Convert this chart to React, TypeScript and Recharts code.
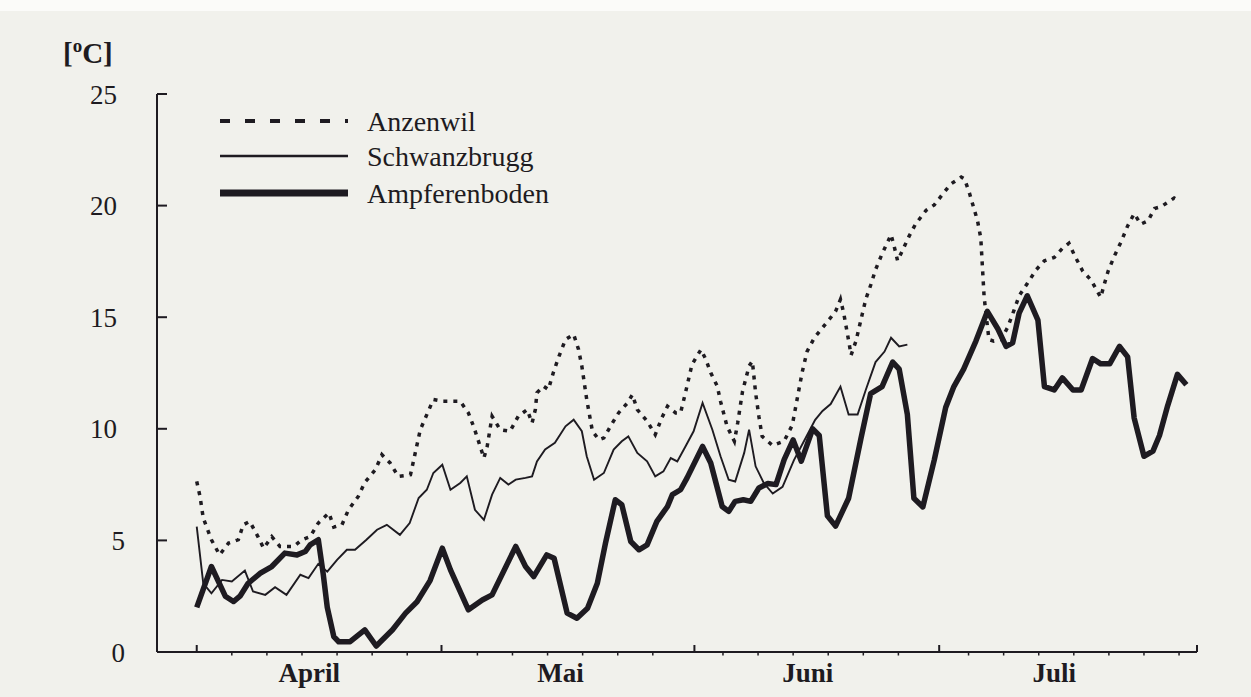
import React from 'react';
import { LineChart, Line, XAxis, YAxis } from 'recharts';

const INK = '#1e1b21';
const PAPER = '#f1f1ec';
const FONT = '"Liberation Serif", "Times New Roman", Times, serif';

// x values are days counted from 1 April
const MONTHS = ['April', 'Mai', 'Juni', 'Juli'];
const MONTH_START_DAYS = [0, 30, 61, 91];
const MONTH_LABEL_DAYS = [13.8, 44.6, 74.9, 105.1];
const MINOR_TICK_STEP = 4.3;
const X_DOMAIN: [number, number] = [-4.87, 122.6];
const Y_TICKS = [0, 5, 10, 15, 20, 25];
const UNIT_LABEL = '°C';
const SERIES_NAMES = ['Anzenwil', 'Schwanzbrugg', 'Ampferenboden'];

// [day, °C]
const ANZENWIL: [number, number][] = [
  [0, 7.64], [0.4, 6.97], [0.8, 6.0], [1.8, 5.03], [2.8, 4.35], [3.9, 4.88], [5.1, 5.03], [5.7, 5.7],
  [6.5, 5.85], [7.5, 5.17], [8.2, 4.65], [9.2, 5.17], [10.2, 4.73], [11.9, 4.73], [12.9, 5.03], [13.9, 5.17],
  [14.9, 5.78], [16.2, 6.23], [16.8, 5.6], [17.8, 5.7], [18.6, 6.37], [19.8, 6.97], [20.6, 7.6], [21.9, 8.17],
  [22.7, 8.84], [23.7, 8.47], [24.7, 7.87], [26.2, 7.94], [27.4, 9.96], [29.0, 11.31], [30.2, 11.23], [31.3, 11.23],
  [32.3, 11.23], [33.3, 10.71], [34.0, 10.04], [34.6, 9.37], [35.2, 8.69], [35.6, 9.21], [36.2, 10.56], [37.2, 9.96],
  [38.4, 9.89], [39.4, 10.56], [40.5, 10.86], [41.1, 10.26], [41.5, 10.86], [41.7, 11.61], [42.5, 11.91], [43.1, 11.76],
  [43.7, 12.51], [44.4, 13.25], [45.2, 14.0], [46.2, 14.23], [46.8, 13.55], [47.2, 12.81], [47.8, 11.31], [48.5, 9.89],
  [49.3, 9.51], [49.9, 9.59], [50.7, 10.11], [51.7, 10.71], [52.8, 11.16], [53.4, 11.53], [54.0, 10.86], [55.2, 10.34],
  [56.2, 9.74], [57.0, 10.49], [57.7, 11.01], [58.7, 10.71], [59.3, 10.71], [59.9, 11.61], [60.7, 12.88], [61.8, 13.55],
  [62.4, 13.11], [63.0, 12.51], [63.8, 11.91], [64.2, 11.23], [65.0, 10.11], [65.9, 9.44], [66.3, 10.26], [66.9, 11.68],
  [67.7, 12.81], [68.1, 13.03], [68.5, 11.61], [68.9, 10.56], [69.3, 9.66], [70.6, 9.25], [72.0, 9.45], [73.0, 10.17],
  [73.6, 11.35], [74.2, 12.52], [74.8, 13.46], [75.7, 14.08], [77.1, 14.71], [78.3, 15.26], [78.9, 15.8], [79.3, 15.18],
  [79.95, 13.85], [80.2, 13.3], [80.8, 13.93], [81.6, 15.18], [82.0, 15.8], [82.6, 16.43], [83.2, 17.13], [84.0, 17.84],
  [84.7, 18.38], [85.1, 18.7], [85.5, 18.15], [85.9, 17.53], [86.5, 17.99], [87.3, 18.62], [88.1, 19.17], [89.4, 19.79],
  [90.4, 20.03], [91.4, 20.5], [92.4, 20.96], [93.7, 21.28], [94.1, 21.2], [94.7, 20.57], [95.7, 19.32], [96.1, 18.54],
  [96.5, 15.96], [96.7, 15.26], [97.1, 14.0], [97.7, 13.93], [98.6, 14.0], [99.4, 14.55], [100.2, 15.34], [100.8, 15.96],
  [101.8, 16.51], [102.9, 17.13], [103.9, 17.53], [105.1, 17.68], [106.1, 18.08], [106.9, 18.31], [107.6, 17.76], [108.6, 17.06],
  [109.6, 16.67], [110.8, 15.89], [111.2, 16.43], [111.7, 17.06], [112.5, 17.76], [113.3, 18.38], [114.1, 19.09], [114.9, 19.64],
  [115.7, 19.17], [116.6, 19.32], [117.4, 19.87], [118.2, 19.95], [119.8, 20.34], [120.2, 20.26],
];

const SCHWANZBRUGG: [number, number][] = [
  [0, 5.62], [0.8, 3.08], [1.8, 2.63], [3.1, 3.23], [4.3, 3.16], [5.9, 3.65], [6.9, 2.71], [8.4, 2.56],
  [9.6, 2.9], [11.0, 2.56], [12.7, 3.46], [13.7, 3.31], [14.9, 3.95], [16.0, 3.6], [17.2, 4.13], [18.4, 4.58],
  [19.4, 4.58], [20.8, 5.03], [22.1, 5.48], [23.3, 5.7], [24.9, 5.25], [26.1, 5.78], [27.2, 6.9], [28.2, 7.27],
  [29.0, 8.02], [30.1, 8.39], [31.1, 7.27], [32.3, 7.57], [33.1, 7.87], [34.1, 6.37], [35.2, 5.92], [36.2, 7.05],
  [37.2, 7.8], [38.2, 7.5], [39.1, 7.72], [40.3, 7.8], [41.1, 7.87], [41.7, 8.54], [42.7, 9.07], [43.9, 9.37],
  [45.2, 10.11], [46.2, 10.41], [47.2, 9.89], [47.8, 8.77], [48.7, 7.72], [49.9, 8.02], [51.1, 9.07], [52.1, 9.44],
  [52.9, 9.66], [54.0, 8.92], [55.2, 8.54], [56.2, 7.87], [57.2, 8.09], [58.1, 8.69], [58.9, 8.54], [59.9, 9.21],
  [60.9, 9.89], [62.0, 11.16], [63.2, 9.96], [64.2, 8.77], [65.2, 7.72], [66.0, 7.64], [67.1, 8.92], [67.7, 9.96],
  [68.5, 8.32], [69.5, 7.57], [70.6, 7.1], [71.8, 7.4], [73.2, 8.6], [74.5, 9.5], [75.8, 10.4], [76.7, 10.8],
  [77.7, 11.11], [78.9, 11.89], [79.9, 10.64], [81.0, 10.64], [82.0, 11.74], [83.2, 12.99], [84.3, 13.46], [85.1, 14.08],
  [86.1, 13.69], [87.1, 13.77],
];

const AMPFERENBODEN: [number, number][] = [
  [0, 2.0], [1.8, 3.83], [3.5, 2.5], [4.5, 2.26], [5.3, 2.5], [6.3, 3.08], [7.8, 3.53], [9.2, 3.83],
  [10.8, 4.43], [12.3, 4.35], [13.3, 4.5], [13.9, 4.8], [14.9, 5.03], [15.5, 3.5], [16.0, 2.0], [16.8, 0.69],
  [17.4, 0.46], [18.8, 0.46], [20.6, 0.99], [22.0, 0.27], [24.0, 1.0], [25.6, 1.74], [27.0, 2.25], [28.6, 3.2],
  [30.1, 4.65], [31.1, 3.68], [33.3, 1.89], [35.0, 2.33], [36.2, 2.56], [39.1, 4.73], [40.3, 3.83], [41.3, 3.38],
  [42.9, 4.35], [43.8, 4.2], [45.4, 1.74], [46.6, 1.51], [47.9, 1.96], [49.1, 3.08], [50.1, 4.88], [51.3, 6.82],
  [52.1, 6.6], [53.2, 4.95], [54.2, 4.58], [55.2, 4.8], [56.4, 5.85], [57.7, 6.52], [58.3, 7.05], [59.3, 7.27],
  [60.1, 7.8], [62.0, 9.21], [63.0, 8.47], [64.4, 6.52], [65.2, 6.3], [66.0, 6.75], [67.0, 6.82], [67.9, 6.75],
  [68.9, 7.35], [70.0, 7.55], [71.0, 7.5], [72.0, 8.62], [73.1, 9.5], [74.1, 8.55], [75.5, 10.0], [76.3, 9.7],
  [77.3, 6.1], [78.3, 5.64], [79.9, 6.89], [81.4, 9.55], [82.6, 11.58], [84.0, 11.89], [85.3, 12.99], [86.1, 12.67],
  [87.1, 10.64], [87.9, 6.89], [89.0, 6.5], [90.4, 8.61], [91.8, 10.96], [92.8, 11.89], [94.0, 12.67], [95.5, 13.93],
  [96.9, 15.26], [98.2, 14.47], [99.2, 13.69], [100.0, 13.85], [100.8, 15.18], [101.8, 15.96], [103.1, 14.87], [103.9, 11.89],
  [105.1, 11.74], [106.1, 12.28], [107.4, 11.74], [108.4, 11.74], [109.8, 13.15], [110.8, 12.91], [111.9, 12.91], [113.1, 13.69],
  [114.1, 13.22], [114.9, 10.48], [116.1, 8.77], [117.2, 9.0], [118.0, 9.7], [119.0, 11.03], [120.2, 12.44], [121.3, 11.97],
];

const toRows = (pairs: [number, number][]) => pairs.map(([d, v]) => ({ d, v }));

const MINOR_TICKS = Array.from({ length: 28 }, (_, i) => i + 1)
  .filter((k) => k !== 7 && k !== 14 && k !== 21)
  .map((k) => Math.round(k * MINOR_TICK_STEP * 100) / 100);
const END_TICK = X_DOMAIN[1];
const X_TICKS = [...MONTH_START_DAYS, ...MINOR_TICKS, ...MONTH_LABEL_DAYS, END_TICK].sort((a, b) => a - b);

const XTick = (props: any) => {
  const { x, y, payload } = props;
  const v = payload.value;
  const li = MONTH_LABEL_DAYS.indexOf(v);
  if (li >= 0) {
    return (
      <text x={x} y={y + 30} textAnchor="middle" fontFamily={FONT} fontWeight="bold" fontSize={27} fill={INK}>
        {MONTHS[li]}
      </text>
    );
  }
  if (MONTH_START_DAYS.includes(v) || v === END_TICK) {
    return <line x1={x} x2={x} y1={y} y2={y - 7} stroke={INK} strokeWidth={2} />;
  }
  return <line x1={x} x2={x} y1={y} y2={y + 3.5} stroke={INK} strokeWidth={1.5} />;
};

const YTick = (props: any) => {
  const { x, y, payload } = props;
  const v = payload.value;
  const label = String(v);
  return (
    <g>
      {v > 0 && <line x1={x} x2={x + 10} y1={y} y2={y} stroke={INK} strokeWidth={2} />}
      <text x={x - (label.length > 1 ? 40 : 32)} y={y + 9.5} textAnchor="end" fontFamily={FONT} fontSize={27} fill={INK}>
        {label}
      </text>
    </g>
  );
};

const LEGEND_ROWS = [
  { y: 121, width: 4, dash: '10 15' },
  { y: 156, width: 2.5, dash: undefined },
  { y: 193, width: 7, dash: undefined },
];

export default function App() {
  return (
    <div style={{ position: 'absolute', left: 0, top: 0, width: 1251, height: 697, background: PAPER, overflow: 'hidden' }}>
      <div style={{ position: 'absolute', left: 0, top: 0, width: 1251, height: 11, background: '#fbfbf9' }} />
      <svg width={1251} height={697} style={{ position: 'absolute', left: 0, top: 0 }}>
        <text x={63} y={63} fontFamily={FONT} fontWeight="bold" fontSize={29} fill={INK}>
          [<tspan dy={-11} fontSize={19}>o</tspan>
          <tspan dy={11}>C]</tspan>
        </text>
        {LEGEND_ROWS.map((r, i) => (
          <g key={SERIES_NAMES[i]}>
            <line x1={220} x2={348} y1={r.y} y2={r.y} stroke={INK} strokeWidth={r.width} strokeDasharray={r.dash} />
            <text x={367} y={r.y + 9.5} fontFamily={FONT} fontSize={28} fill={INK}>
              {SERIES_NAMES[i]}
            </text>
          </g>
        ))}
      </svg>
      <div style={{ position: 'absolute', left: 0, top: 0 }}>
        <LineChart width={1251} height={697} margin={{ top: 94, right: 54, bottom: 0, left: 57 }}>
          <XAxis
            type="number"
            dataKey="d"
            domain={X_DOMAIN}
            ticks={X_TICKS}
            interval={0}
            tickSize={0}
            tickMargin={0}
            tickLine={false}
            height={45}
            axisLine={{ stroke: INK, strokeWidth: 2 }}
            tick={XTick}
            allowDataOverflow
          />
          <YAxis
            type="number"
            domain={[0, 25]}
            ticks={Y_TICKS}
            interval={0}
            width={100}
            tickSize={0}
            tickMargin={0}
            tickLine={false}
            axisLine={{ stroke: INK, strokeWidth: 2 }}
            tick={YTick}
            allowDataOverflow
          />
          <Line
            data={toRows(ANZENWIL)}
            dataKey="v"
            name={SERIES_NAMES[0]}
            type="linear"
            stroke={INK}
            strokeWidth={3.5}
            strokeDasharray="4 6"
            dot={false}
            activeDot={false}
            isAnimationActive={false}
          />
          <Line
            data={toRows(SCHWANZBRUGG)}
            dataKey="v"
            name={SERIES_NAMES[1]}
            type="linear"
            stroke={INK}
            strokeWidth={1.9}
            dot={false}
            activeDot={false}
            isAnimationActive={false}
          />
          <Line
            data={toRows(AMPFERENBODEN)}
            dataKey="v"
            name={SERIES_NAMES[2]}
            type="linear"
            stroke={INK}
            strokeWidth={5.5}
            strokeLinejoin="round"
            dot={false}
            activeDot={false}
            isAnimationActive={false}
          />
        </LineChart>
      </div>
    </div>
  );
}
